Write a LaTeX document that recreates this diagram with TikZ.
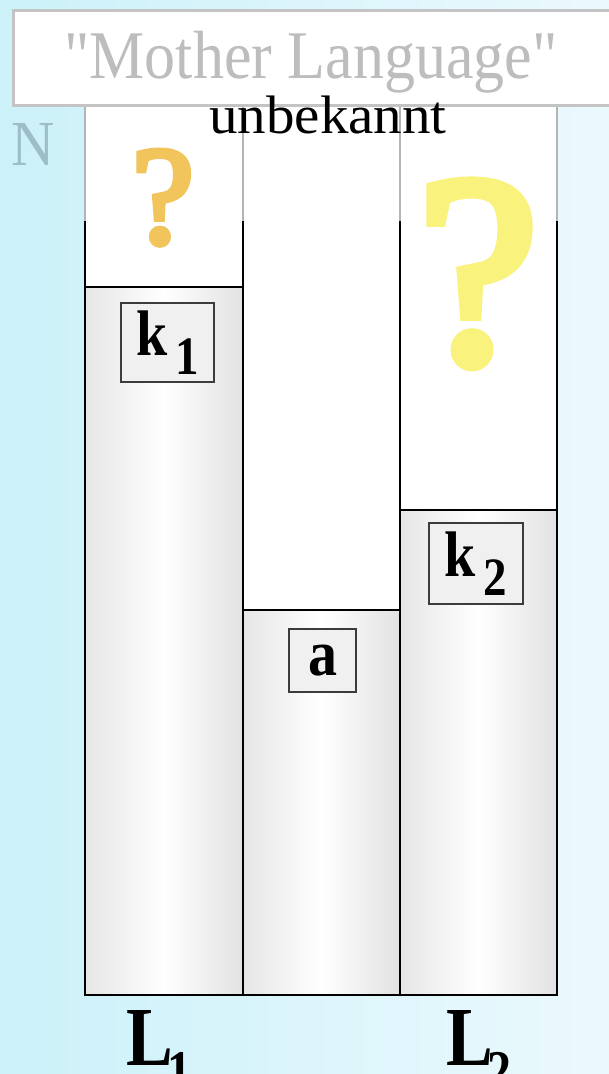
\documentclass[tikz,border=0pt]{standalone}
\usepackage{fontspec}
\setmainfont{Liberation Serif}
\newfontface\plainserif{Liberation Serif}
\newfontface\qface[FakeBold=4]{Liberation Serif}
\definecolor{bgL}{HTML}{CCF1F9}
\definecolor{bgR}{HTML}{EBF9FD}
\definecolor{mlgray}{HTML}{BDBDBD}
\definecolor{ncol}{HTML}{9DBDC8}
\definecolor{qorange}{HTML}{F2C45C}
\definecolor{qyellow}{HTML}{F9F27C}
\definecolor{boxgray}{HTML}{C4C4C4}
\definecolor{gridgray}{HTML}{B4B4B4}
\definecolor{colleft}{HTML}{E6E6E6}
\definecolor{colright}{HTML}{E2E2E2}
\definecolor{labfill}{HTML}{F0F0F0}
\definecolor{labdraw}{HTML}{3C3C3C}
\tikzset{
  frame/.style={line width=2.8pt, black, line cap=rect},
  gridline/.style={line width=1.6pt, gridgray},
  colfill/.style={left color=colleft, right color=colright, middle color=white},
  labbox/.style={draw=labdraw, fill=labfill, line width=1.1pt, inner sep=0pt},
  topbox/.style={draw=boxgray, fill=white, line width=3pt},
}
\begin{document}
\begin{tikzpicture}[x=1pt,y=-1pt]
\useasboundingbox (0,0) rectangle (609,1074);
\clip (0,0) rectangle (609,1074);
\shade[left color=bgL, right color=bgR] (0,0) rectangle (609,1074);
% white column area
\fill[white] (85,105) rectangle (557,995);
% shaded fills
\shade[colfill] (85,287) rectangle (243,995);
\shade[colfill] (243,610) rectangle (400,995);
\shade[colfill] (400,510) rectangle (557,995);
% thin gray upper lines
\foreach \x in {85,243,400,557} \draw[gridline] (\x,105) -- (\x,222);
% black frame
\draw[frame] (85,222) -- (85,995) -- (557,995) -- (557,222);
\draw[frame] (243,222) -- (243,995);
\draw[frame] (400,222) -- (400,995);
\draw[frame] (85,287) -- (243,287);
\draw[frame] (243,610) -- (400,610);
\draw[frame] (400,510) -- (557,510);
% top box
\draw[topbox] (13,10) rectangle (625,105);
\node[anchor=base, text=mlgray, inner sep=0pt] (mother) at (311,78)
  {\scalebox{1}[1.1]{\fontsize{62}{62}\plainserif "Mother Language"}};
\node[anchor=base, inner sep=0pt] (unbek) at (328,133)
  {\scalebox{1}[0.95]{\fontsize{57}{57}\selectfont unbekannt}};
\node[anchor=base, text=ncol, inner sep=0pt] (N) at (33.5,165)
  {\scalebox{1}[1.07]{\fontsize{60}{60}\selectfont N}};
% question marks
\node[anchor=base, text=qorange, inner sep=0pt] (q1) at (163,243)
  {\fontsize{140}{140}\qface ?};
\node[anchor=base, text=qyellow, inner sep=0pt] (q2) at (478,362)
  {\fontsize{272}{272}\qface ?};
% label boxes
\node[labbox, minimum width=93pt, minimum height=79pt] (k1) at (167.5,342.5)
  {\scalebox{1}[1.15]{\fontsize{56}{56}\selectfont\bfseries k\hspace{8pt}\raisebox{-17pt}{\fontsize{47}{47}\selectfont 1}}};
\node[labbox, minimum width=67pt, minimum height=63pt] (a) at (322.5,660.5)
  {\scalebox{1}[1.12]{\fontsize{58}{58}\selectfont\bfseries a}};
\node[labbox, minimum width=94pt, minimum height=81pt] (k2) at (476,563.5)
  {\scalebox{1}[1.15]{\fontsize{56}{56}\selectfont\bfseries k\hspace{8pt}\raisebox{-17pt}{\fontsize{47}{47}\selectfont 2}}};
% bottom labels
\node[anchor=base west, inner sep=0pt] (L1) at (126,1065)
  {\scalebox{1}[1.2]{\fontsize{70}{70}\selectfont\bfseries L\kern-5pt\raisebox{-21pt}{\fontsize{48}{48}\selectfont 1}}};
\node[anchor=base west, inner sep=0pt] (L2) at (446,1065)
  {\scalebox{1}[1.2]{\fontsize{70}{70}\selectfont\bfseries L\kern-5pt\raisebox{-21pt}{\fontsize{48}{48}\selectfont 2}}};
\end{tikzpicture}
\end{document}
